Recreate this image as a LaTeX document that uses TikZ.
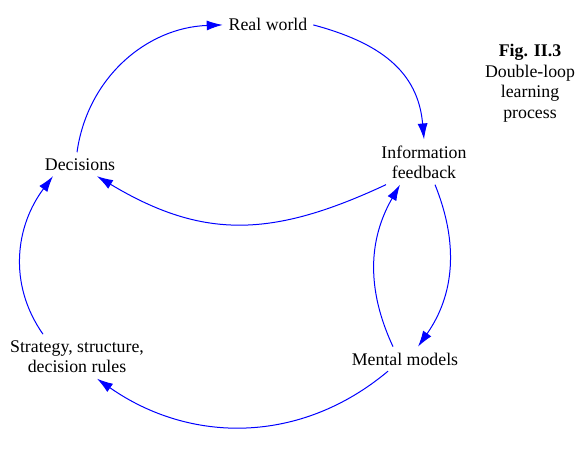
\documentclass[tikz,border=0pt]{standalone}
\usepackage{fontspec}
\setmainfont{Liberation Serif}
\usetikzlibrary{arrows.meta}

\begin{document}
\begin{tikzpicture}[x=1pt, y=1pt, every node/.style={font=\fontsize{17.8}{20.5}\selectfont, inner sep=2pt, outer sep=4pt, align=center, anchor=base}, flow/.style={draw=blue, line width=1pt, -{Latex[length=16pt,width=10pt]}}]
            \useasboundingbox (0,0) rectangle (580,-473);
            \node (rw) at (268,-31) {Real world};
            \node (info) at (424,-178.5) {Information\\feedback};
            \node (dec) at (80,-170) {Decisions};
            \node (mm) at (405,-365) {Mental models};
            \node (str) at (77,-372.5) {Strategy, structure,\\decision rules};
            \node (cap) at (530,-118.5) {\textbf{Fig. II.3}\\Double-loop\\learning\\process};

            \draw[flow, out=82, in=182] ([xshift=-3pt]dec.north) to (rw.west);
            \draw[flow, out=-15, in=95, looseness=1.1] (rw.east) to (info.north);
            \draw[flow, out=-155, in=-31, looseness=1.1] ([xshift=-38pt]info.south) to ([xshift=17pt]dec.south);
            \draw[flow, out=-68, in=55] ([xshift=11pt]info.south) to ([xshift=13pt]mm.north);
            \draw[flow, out=115, in=-120] ([xshift=-12pt]mm.north) to ([xshift=-24pt]info.south);
            \draw[flow, out=-140, in=-35] ([xshift=-17pt]mm.south) to ([xshift=20pt]str.south);
            \draw[flow, out=125, in=-127] ([xshift=-34pt]str.north) to ([xshift=-27pt]dec.south);
\end{tikzpicture}
\end{document}
